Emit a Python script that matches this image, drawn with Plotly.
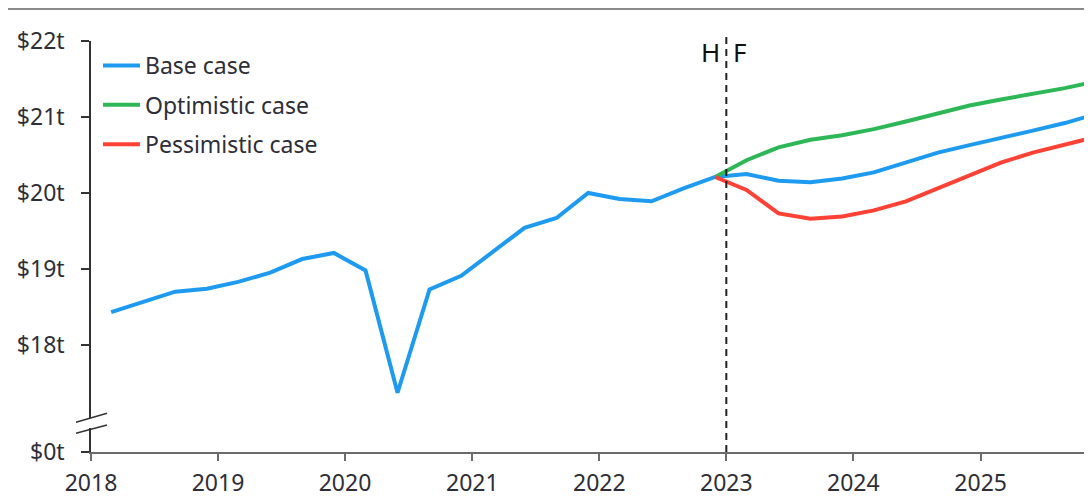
import plotly.graph_objects as go

# quarterly observation dates (historical + forecast)
dates = [
    "2018-02-28", "2018-05-31", "2018-08-31", "2018-11-30",
    "2019-02-28", "2019-05-31", "2019-08-31", "2019-11-30",
    "2020-02-29", "2020-05-31", "2020-08-31", "2020-11-30",
    "2021-02-28", "2021-05-31", "2021-08-31", "2021-11-30",
    "2022-02-28", "2022-05-31", "2022-08-31", "2022-11-30",
    "2023-02-28", "2023-05-31", "2023-08-31", "2023-11-30",
    "2024-02-29", "2024-05-31", "2024-08-31", "2024-11-30",
    "2025-02-28", "2025-05-31", "2025-08-31", "2025-11-30",
]

# base case ($ trillion), historical through 2022Q4 then forecast
base = [18.43, 18.57, 18.70, 18.74, 18.83, 18.95, 19.13, 19.21,
        18.98, 17.37, 18.73, 18.91, 19.22, 19.54, 19.67, 20.00,
        19.92, 19.89, 20.06, 20.21,
        20.25, 20.16, 20.14, 20.19, 20.27, 20.40, 20.53, 20.63,
        20.73, 20.82, 20.92, 21.04]

# scenarios start from last historical point (2022Q4)
optimistic = [20.21, 20.43, 20.60, 20.70, 20.76, 20.84, 20.94, 21.05,
              21.15, 21.23, 21.30, 21.38, 21.47]
pessimistic = [20.21, 20.04, 19.73, 19.66, 19.69, 19.77, 19.89, 20.06,
               20.24, 20.40, 20.53, 20.63, 20.74]

y_ticks = [16.59, 18, 19, 20, 21, 22]
y_labels = ["$0t", "$18t", "$19t", "$20t", "$21t", "$22t"]

year_ticks = ["2018-01-01", "2019-01-01", "2020-01-01", "2021-01-01",
              "2022-01-01", "2023-01-01", "2024-01-01", "2025-01-01"]
year_labels = ["2018", "2019", "2020", "2021", "2022", "2023", "2024", "2025"]

FONT = "Noto Sans"
TXT = "#2e2e38"
YAXIS = "#333333"
XAXIS = "#6b6b6b"

# page has an 8px body margin, plot area should sit at page x 91..1092, y 41..452
def px(x):
    return (x - 91) / 1001

def py(y):
    return (452 - y) / 411

fig = go.Figure()
fig.add_trace(go.Scatter(x=dates, y=base, mode="lines", name="Base case",
                         line=dict(color="#1e9bf0", width=4), legendgroup="a"))
fig.add_trace(go.Scatter(x=dates[19:], y=optimistic, mode="lines", name="Optimistic case",
                         line=dict(color="#2db757", width=4), legendgroup="b"))
fig.add_trace(go.Scatter(x=dates[19:], y=pessimistic, mode="lines", name="Pessimistic case",
                         line=dict(color="#ff4136", width=4), legendgroup="c"))

# forecast divider
fig.add_shape(type="line", x0="2023-01-01", x1="2023-01-01", y0=0, y1=py(35),
              xref="x", yref="paper", line=dict(color="#222222", width=2, dash="7px,5px"))
fig.add_annotation(x="2023-01-01", y=py(52), yref="paper", text="H", showarrow=False,
                   xanchor="right", yanchor="middle", xshift=-4,
                   font=dict(family=FONT, size=26, color="#111111"))
fig.add_annotation(x="2023-01-01", y=py(52), yref="paper", text="F", showarrow=False,
                   xanchor="left", yanchor="middle", xshift=5,
                   font=dict(family=FONT, size=26, color="#111111"))

# top rule (as high as the page allows)
fig.add_shape(type="line", xref="paper", yref="paper", x0=px(-10), x1=1.0, y0=py(9), y1=py(9),
              line=dict(color="#8a8a8a", width=2))

# axis break marks
fig.add_shape(type="rect", xref="paper", yref="paper", x0=px(89), x1=px(93),
              y0=py(428), y1=py(418), line=dict(width=0), fillcolor="white")
for y_left, y_right in [(422.3, 413.3), (433.3, 425.0)]:
    fig.add_shape(type="line", xref="paper", yref="paper",
                  x0=px(76), x1=px(107), y0=py(y_left), y1=py(y_right),
                  line=dict(color=YAXIS, width=1.5))

fig.update_xaxes(
    type="date", range=["2018-01-01", "2025-11-17"], automargin=False,
    tickvals=year_ticks, ticktext=year_labels,
    showgrid=False, zeroline=False, showline=True, linecolor=XAXIS, linewidth=1.5,
    ticks="outside", ticklen=7, tickcolor=XAXIS, tickwidth=1.5, ticklabelstandoff=3,
    tickfont=dict(family=FONT, size=23, color=TXT),
)
fig.update_yaxes(
    range=[16.59, 22], tickvals=y_ticks, ticktext=y_labels, automargin=False,
    showgrid=False, zeroline=False, showline=True, linecolor=YAXIS, linewidth=1.5,
    ticks="outside", ticklen=8, tickcolor=YAXIS, tickwidth=1.5, ticklabelstandoff=12,
    tickfont=dict(family=FONT, size=23, color=TXT),
)

fig.update_layout(
    width=1092, height=497,
    margin=dict(l=83, r=8, t=33, b=53),
    plot_bgcolor="white", paper_bgcolor="white",
    showlegend=True,
    legend=dict(x=px(98), y=py(44), xanchor="left", yanchor="top",
                bgcolor="rgba(0,0,0,0)", tracegroupgap=6.5, itemwidth=37,
                font=dict(family=FONT, size=23, color=TXT)),
)

fig.write_html("out.html")
